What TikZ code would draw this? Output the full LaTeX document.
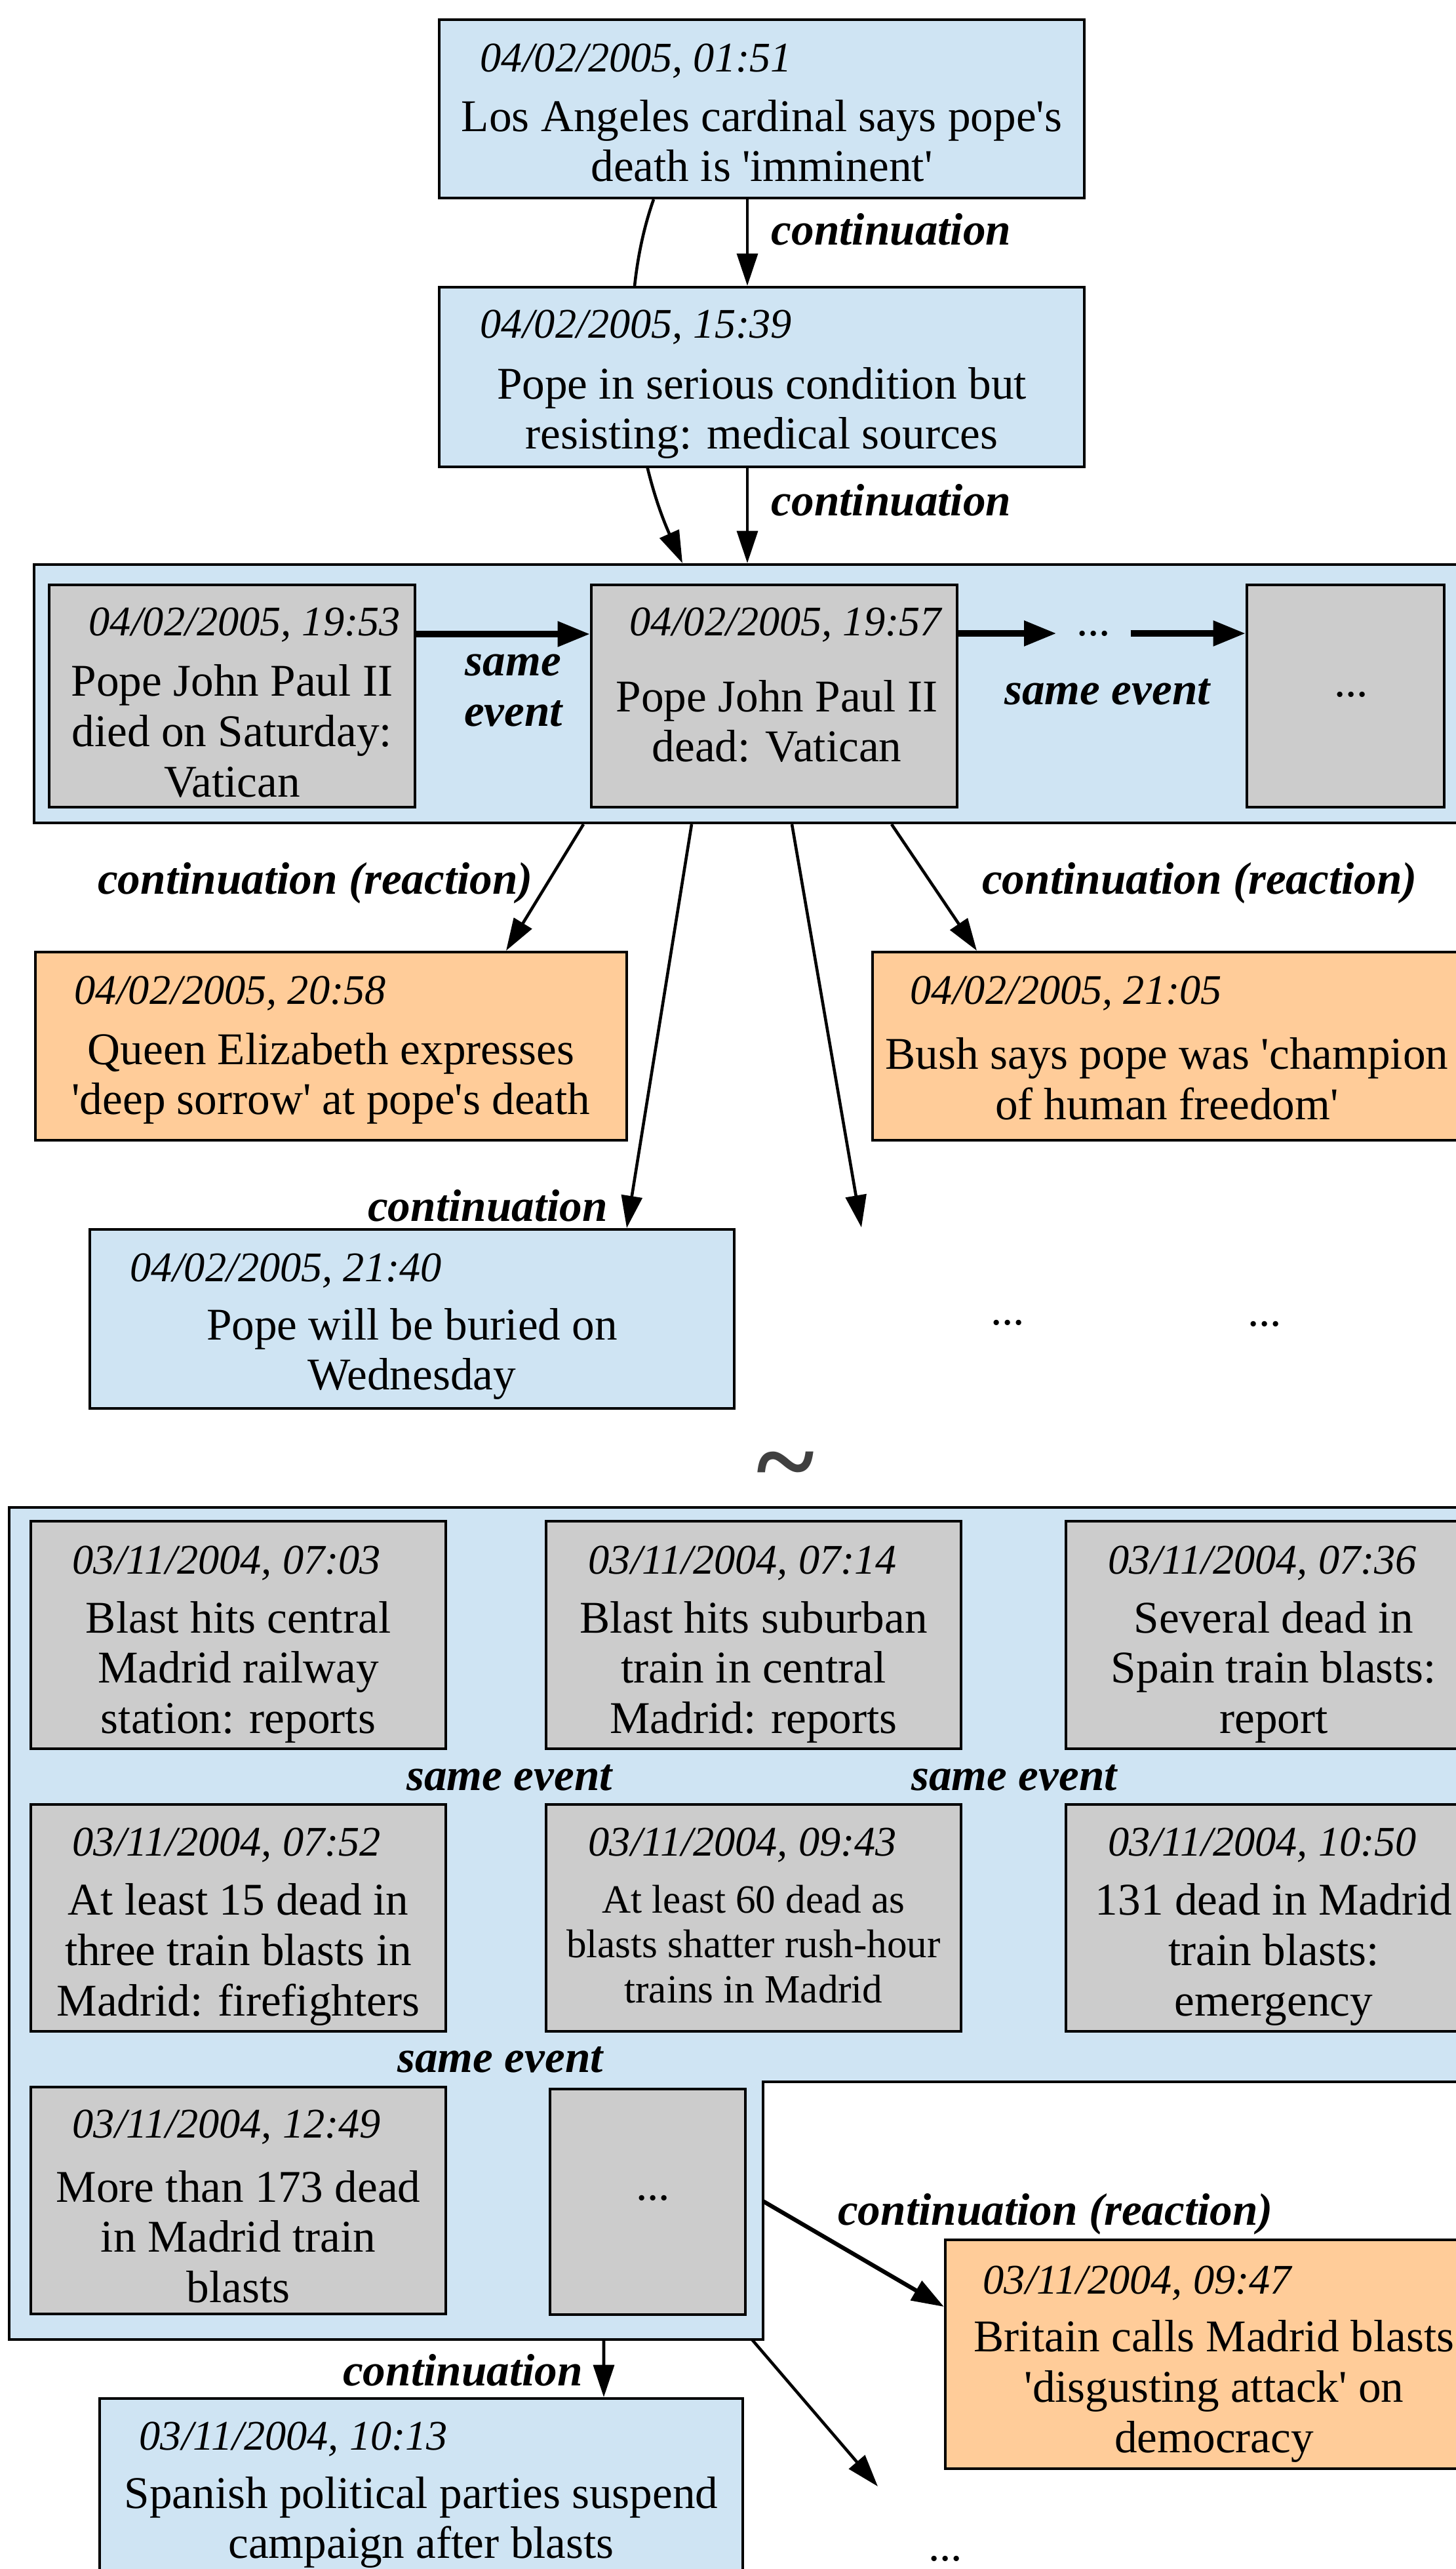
\documentclass[tikz,border=0pt]{standalone}
\usepackage{fontspec}
\setmainfont{Liberation Serif}[Ligatures=TeXOff]
\usetikzlibrary{positioning, arrows.meta, calc}
\definecolor{evtblue}{RGB}{207,228,243}
\definecolor{evtgrey}{RGB}{204,204,204}
\definecolor{evtorange}{RGB}{255,204,153}
\definecolor{darkgrey}{RGB}{64,64,64}
\tikzset{
    story/.style={rectangle, draw=black, line width=1.2pt, inner sep=0pt},
    contstory/.style={story, fill=evtblue},
    samestory/.style={story, fill=evtgrey},
    reactstory/.style={story, fill=evtorange},
    clusterbox/.style={rectangle, draw=black, line width=1.2pt, fill=evtblue, inner sep=0pt},
    datelbl/.style={anchor=west, inner sep=0pt, font=\fontsize{18.3}{20}\selectfont\itshape},
    headlbl/.style={inner sep=0pt, align=center, font=\fontsize{19.7}{21.8}\selectfont},
    headsmall/.style={inner sep=0pt, align=center, font=\fontsize{17.4}{19.6}\selectfont},
    edgelbl/.style={inner sep=0pt, align=center, font=\fontsize{19.7}{21.8}\selectfont\bfseries\itshape},
    dotslbl/.style={inner sep=0pt, font=\fontsize{19.7}{21.8}\selectfont},
    arr/.style={-{Triangle[length=14pt, width=9pt]}, line width=1.3pt},
    arrreact/.style={-{Triangle[length=14pt, width=9.5pt]}, line width=1.8pt},
    arrbold/.style={-{Triangle[length=14pt, width=10.5pt]}, line width=2.6pt}
}

\begin{document}
\begin{tikzpicture}
        \clip (0,0) rectangle (22.21,-39.18);
        \fill[white] (0,0) rectangle (22.21,-39.18);

        % Pope: continuation chain
        \node[contstory, minimum width=9.84cm, minimum height=2.72cm] (b1) at (11.62,-1.66) {};
        \node[datelbl] (b1d) at (7.32,-0.93) {04/02/2005, 01:51};
        \node[headlbl] (b1t) at (11.62,-2.15) {Los Angeles cardinal says pope's\\death is 'imminent'};

        \node[clusterbox, minimum width=22.08cm, minimum height=3.94cm] (c1) at (11.56,-10.58) {};

        % edge running behind the second story
        \draw[arr] ([xshift=-1.65cm]b1.south) .. controls (9.35,-4.80) and (9.70,-7.00) .. ([xshift=-1.15cm]c1.north);

        \node[contstory, minimum width=9.84cm, minimum height=2.74cm] (b2) at (11.62,-5.75) {};
        \node[datelbl] (b2d) at (7.32,-4.99) {04/02/2005, 15:39};
        \node[headlbl] (b2t) at (11.62,-6.30) {Pope in serious condition but\\resisting: medical sources};

        \draw[arr] ([xshift=-0.22cm]b1.south) -- ([xshift=-0.22cm]b2.north);
        \node[edgelbl, anchor=west] (l1) at (11.76,-3.50) {continuation};
        \draw[arr] ([xshift=-0.22cm]b2.south) -- ([xshift=-0.16cm]c1.north);
        \node[edgelbl, anchor=west] (l2) at (11.76,-7.63) {continuation};

        % Pope: same event cluster
        \node[samestory, minimum width=5.58cm, minimum height=3.39cm] (gA) at (3.54,-10.615) {};
        \node[datelbl] (gAd) at (1.35,-9.53) {04/02/2005, 19:53};
        \node[headlbl] (gAt) at (3.54,-11.15) {Pope John Paul II\\died on Saturday:\\Vatican};

        \node[samestory, minimum width=5.58cm, minimum height=3.39cm] (gB) at (11.81,-10.615) {};
        \node[datelbl] (gBd) at (9.60,-9.53) {04/02/2005, 19:57};
        \node[headlbl] (gBt) at (11.85,-11.00) {Pope John Paul II\\dead: Vatican};

        \node[samestory, minimum width=3.01cm, minimum height=3.39cm] (gC) at (20.525,-10.615) {};
        \node[dotslbl] (gCt) at (20.61,-10.59) {...};

        \draw[arrbold] ([yshift=0.945cm]gA.east) -- ([yshift=0.945cm]gB.west);
        \node[edgelbl] (l3) at (7.83,-10.53) {same\\event};
        \node[dotslbl, inner xsep=0.3cm] (dd) at (16.68,-9.66) {...};
        \draw[arrbold] (dd.west -| gB.east) -- (dd.west);
        \draw[arrbold] (dd.east) -- (dd.east -| gC.west);
        \node[edgelbl] (l4) at (16.89,-10.55) {same event};

        % Pope: reactions and continuations
        \node[reactstory, minimum width=9.02cm, minimum height=2.87cm] (qe) at (5.05,-15.955) {};
        \node[datelbl] (qed) at (1.13,-15.15) {04/02/2005, 20:58};
        \node[headlbl] (qet) at (5.05,-16.45) {Queen Elizabeth expresses\\'deep sorrow' at pope's death};

        \node[reactstory, minimum width=8.98cm, minimum height=2.87cm] (bu) at (17.80,-15.955) {};
        \node[datelbl] (bud) at (13.88,-15.15) {04/02/2005, 21:05};
        \node[headlbl] (but) at (17.80,-16.45) {Bush says pope was 'champion\\of human freedom'};

        \node[contstory, minimum width=9.83cm, minimum height=2.73cm] (pb) at (6.285,-20.115) {};
        \node[datelbl] (pbd) at (1.98,-19.38) {04/02/2005, 21:40};
        \node[headlbl] (pbt) at (6.285,-20.65) {Pope will be buried on\\Wednesday};

        \coordinate (free1) at (13.14,-18.72);
        \draw[arr] ([xshift=-2.66cm]c1.south) -- ([xshift=2.67cm]qe.north);
        \draw[arr] ([xshift=-1.01cm]c1.south) -- ([xshift=3.275cm]pb.north);
        \draw[arr] ([xshift=0.52cm]c1.south) -- (free1);
        \draw[arr] ([xshift=2.04cm]c1.south) -- ([xshift=-2.90cm]bu.north);
        \node[edgelbl] (l5) at (4.81,-13.47) {continuation (reaction)};
        \node[edgelbl] (l6) at (18.30,-13.47) {continuation (reaction)};
        \node[edgelbl] (l7) at (7.44,-18.39) {continuation};
        \node[dotslbl] (pd1) at (15.37,-20.17) {...};
        \node[dotslbl] (pd2) at (19.29,-20.19) {...};

        % similarity sign
        \node[text=darkgrey, font=\fontsize{48}{50}\selectfont\bfseries, inner sep=0pt] (sim) at (11.98,-22.50) {\textasciitilde};

        % Madrid: same event cluster (L-shaped)
        \draw[line width=1.2pt, fill=evtblue] (0.14,-22.99) -- (22.60,-22.99) -- (22.60,-31.75) -- (11.64,-31.75) -- (11.64,-35.68) -- (0.14,-35.68) -- cycle;
        \coordinate (c2r) at (11.64,-33.57);
        \coordinate (c2b1) at (9.21,-35.68);
        \coordinate (c2b2) at (11.47,-35.68);

        \node[samestory, minimum width=6.33cm, minimum height=3.47cm] (m1) at (3.635,-24.935) {};
        \node[datelbl] (m1d) at (1.10,-23.84) {03/11/2004, 07:03};
        \node[headlbl] (m1t) at (3.635,-25.50) {Blast hits central\\Madrid railway\\station: reports};

        \node[samestory, minimum width=6.33cm, minimum height=3.47cm] (m2) at (11.495,-24.935) {};
        \node[datelbl] (m2d) at (8.97,-23.84) {03/11/2004, 07:14};
        \node[headlbl] (m2t) at (11.495,-25.50) {Blast hits suburban\\train in central\\Madrid: reports};

        \node[samestory, minimum width=6.33cm, minimum height=3.47cm] (m3) at (19.425,-24.935) {};
        \node[datelbl] (m3d) at (16.90,-23.84) {03/11/2004, 07:36};
        \node[headlbl] (m3t) at (19.43,-25.50) {Several dead in\\Spain train blasts:\\report};

        \node[edgelbl] (l8) at (7.77,-27.11) {same event};
        \node[edgelbl] (l9) at (15.47,-27.11) {same event};

        \node[samestory, minimum width=6.33cm, minimum height=3.46cm] (m4) at (3.635,-29.25) {};
        \node[datelbl] (m4d) at (1.10,-28.14) {03/11/2004, 07:52};
        \node[headlbl] (m4t) at (3.635,-29.81) {At least 15 dead in\\three train blasts in\\Madrid: firefighters};

        \node[samestory, minimum width=6.33cm, minimum height=3.46cm] (m5) at (11.495,-29.25) {};
        \node[datelbl] (m5d) at (8.97,-28.14) {03/11/2004, 09:43};
        \node[headsmall] (m5t) at (11.495,-29.65) {At least 60 dead as\\blasts shatter rush-hour\\trains in Madrid};

        \node[samestory, minimum width=6.33cm, minimum height=3.46cm] (m6) at (19.425,-29.25) {};
        \node[datelbl] (m6d) at (16.90,-28.14) {03/11/2004, 10:50};
        \node[headlbl] (m6t) at (19.43,-29.81) {131 dead in Madrid\\train blasts:\\emergency};

        \node[edgelbl] (l10) at (7.63,-31.41) {same event};

        \node[samestory, minimum width=6.33cm, minimum height=3.46cm] (m7) at (3.635,-33.56) {};
        \node[datelbl] (m7d) at (1.10,-32.44) {03/11/2004, 12:49};
        \node[headlbl] (m7t) at (3.635,-34.11) {More than 173 dead\\in Madrid train\\blasts};

        \node[samestory, minimum width=2.98cm, minimum height=3.44cm] (m8) at (9.88,-33.58) {};
        \node[dotslbl] (m8t) at (9.96,-33.52) {...};

        % Madrid: reaction and continuations
        \node[reactstory, minimum width=8.20cm, minimum height=3.49cm] (br) at (18.52,-35.905) {};
        \node[datelbl] (brd) at (14.99,-34.82) {03/11/2004, 09:47};
        \node[headlbl] (brt) at (18.52,-36.47) {Britain calls Madrid blasts\\'disgusting attack' on\\democracy};
        \draw[arrreact] (c2r) -- ([yshift=0.725cm]br.west);
        \node[edgelbl] (l11) at (16.10,-33.77) {continuation (reaction)};

        \node[contstory, minimum width=9.81cm, minimum height=2.84cm] (sp) at (6.425,-38.00) {};
        \node[datelbl] (spd) at (2.12,-37.20) {03/11/2004, 10:13};
        \node[headlbl] (spt) at (6.425,-38.47) {Spanish political parties suspend\\campaign after blasts};
        \draw[arr] (c2b1) -- ([xshift=2.785cm]sp.north);
        \node[edgelbl] (l12) at (7.06,-36.15) {continuation};

        \coordinate (free2) at (13.39,-37.92);
        \draw[arr] (c2b2) -- (free2);
        \node[dotslbl] (md) at (14.42,-39.02) {...};

\end{tikzpicture}
\end{document}
